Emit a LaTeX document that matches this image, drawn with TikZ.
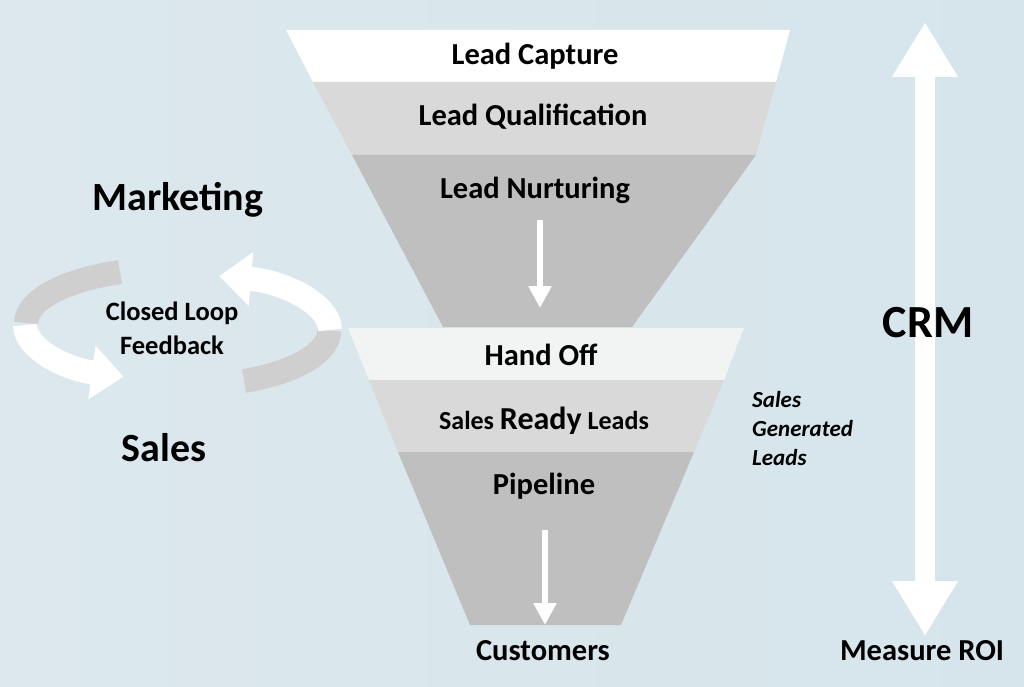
\documentclass[tikz,border=0pt]{standalone}
\usepackage{fontspec}
\setmainfont{Carlito}
\usetikzlibrary{arrows.meta}
\definecolor{bandA}{HTML}{FFFFFF}
\definecolor{bandB}{HTML}{D9D9D9}
\definecolor{bandC}{HTML}{BFBFBF}
\definecolor{bandH}{HTML}{F2F4F4}
\definecolor{bgL}{HTML}{DCE8ED}
\definecolor{bgM}{HTML}{B2D1DD}
\definecolor{bgR}{HTML}{D6E5EC}
\definecolor{loopgrey}{HTML}{CFCFCF}
\tikzset{lbl/.style={font=\bfseries, text=black, inner sep=0pt},
  band/.style={draw=none}}
\begin{document}
\begin{tikzpicture}[x=1pt,y=-1pt]
\useasboundingbox (0,0) rectangle (1024,687);
\shade[left color=bgL, middle color=bgM, right color=bgR] (0,0) rectangle (1024,687);
% top funnel
\fill[bandA] (286,30) -- (790,30) -- (776,82) -- (313,82) -- cycle;
\fill[bandB] (313,82) -- (776,82) -- (756,155) -- (352,155) -- cycle;
\fill[bandC] (352,155) -- (756,155) -- (632,327) -- (443,327) -- cycle;
% lower funnel
\fill[bandH] (348,328) -- (744,328) -- (724,380) -- (369,380) -- cycle;
\fill[bandB] (369,380) -- (724,380) -- (694,452) -- (398,452) -- cycle;
\fill[bandC] (398,452) -- (694,452) -- (621,625) -- (470,625) -- cycle;
% arrows inside funnels
\coordinate (a1s) at (540,220); \coordinate (a1e) at (540,308);
\draw[white, line width=6, -{Triangle[width=22pt,length=22pt]}] (a1s) -- (a1e);
\coordinate (a2s) at (545,530); \coordinate (a2e) at (545,625);
\draw[white, line width=6, -{Triangle[width=22pt,length=22pt]}] (a2s) -- (a2e);
% CRM arrow
\coordinate (c1) at (925,22); \coordinate (c2) at (925,636);
\draw[white, line width=20, {Triangle[width=62pt,length=55pt]}-{Triangle[width=62pt,length=55pt]}] (c1) -- (c2);
% loop arrows
\draw[loopgrey, line width=24] (120,272) arc[start angle=-112, end angle=-180, x radius=150, y radius=55];
\draw[white, line width=24, -{Triangle[width=52pt,length=32pt]}] (25,325) arc[start angle=-180, end angle=-250, x radius=150, y radius=55];
\draw[loopgrey, line width=24] (244,381) arc[start angle=67, end angle=0, x radius=140, y radius=55];
\draw[white, line width=24, -{Triangle[width=52pt,length=32pt]}] (330,330) arc[start angle=0, end angle=-78, x radius=140, y radius=55];
% texts
\node[lbl, font=\fontsize{30.5}{34}\selectfont\bfseries] (lc) at (535,56) {Lead Capture};
\node[lbl, font=\fontsize{30.5}{34}\selectfont\bfseries] (lq) at (533,117) {Lead Qualification};
\node[lbl, font=\fontsize{30.5}{34}\selectfont\bfseries] (ln) at (535,190) {Lead Nurturing};
\node[lbl, font=\fontsize{40}{44}\selectfont\bfseries] (mk) at (178,200) {Marketing};
\node[lbl, font=\fontsize{26.5}{30}\selectfont\bfseries, align=center] (cl) at (172,328) {Closed Loop\\[4pt]Feedback};
\node[lbl, font=\fontsize{40}{44}\selectfont\bfseries] (sl) at (164,448) {Sales};
\node[lbl, font=\fontsize{46}{50}\selectfont\bfseries] (crm) at (928,323) {CRM};
\node[lbl, font=\fontsize{30.5}{34}\selectfont\bfseries] (ho) at (541,355) {Hand Off};
\node[lbl, font=\fontsize{26}{34}\selectfont\bfseries] (srl) at (544,421) {Sales {\fontsize{32}{34}\selectfont Ready} Leads};
\node[lbl, font=\fontsize{30.5}{34}\selectfont\bfseries] (pl) at (544,486) {Pipeline};
\node[lbl, font=\fontsize{23}{29}\selectfont\bfseries\itshape, align=left, anchor=north west] (sg) at (752,391) {Sales\\Generated\\Leads};
\node[lbl, font=\fontsize{30.5}{34}\selectfont\bfseries] (cu) at (543,651) {Customers};
\node[lbl, font=\fontsize{30.5}{34}\selectfont\bfseries] (roi) at (922,651) {Measure ROI};
\end{tikzpicture}
\end{document}
